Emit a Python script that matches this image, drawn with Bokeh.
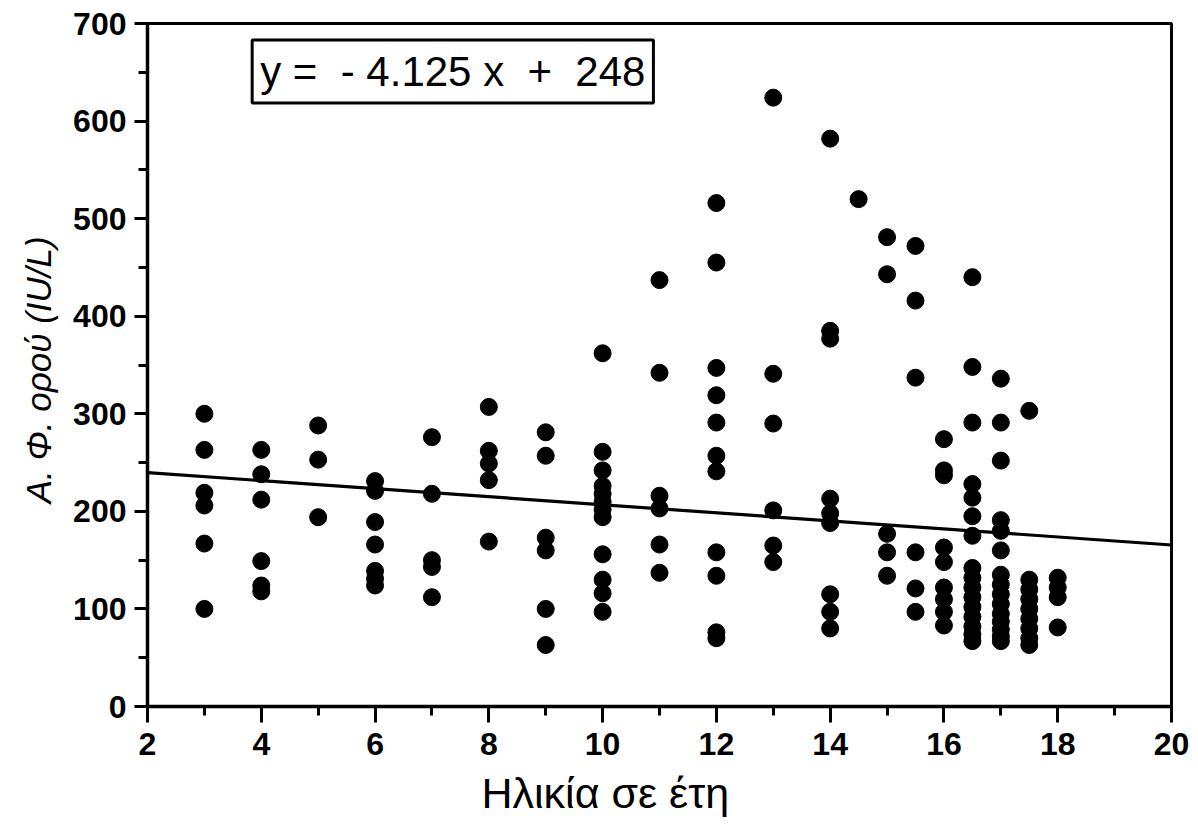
from bokeh.plotting import figure
from bokeh.models import FixedTicker, Label, Title, ColumnDataSource
from bokeh.embed import file_html
from bokeh.resources import INLINE

# ---- data (age in years -> serum ALP, IU/L) ----
age_3 = [300, 263, 219, 206, 167, 100]
age_4 = [263, 238, 212, 149, 124, 118]
age_5 = [288, 253, 194]
age_6 = [231, 221, 189, 166, 139, 131, 124]
age_7 = [276, 218, 150, 143, 112]
age_8 = [307, 262, 249, 232, 169]
age_9 = [281, 257, 173, 160, 100, 63]
age_10 = [362, 261, 242, 226, 218, 210, 202, 194, 156, 130, 116, 97]
age_11 = [437, 342, 216, 203, 166, 137]
age_12 = [516, 455, 347, 319, 291, 257, 241, 158, 134, 76, 70]
age_13 = [624, 341, 290, 201, 165, 148]
age_14 = [582, 385, 377, 213, 198, 188, 115, 97, 80]
age_14_5 = [520]
age_15 = [481, 443, 177, 158, 134]
age_15_5 = [472, 416, 337, 158, 121, 97]
age_16 = [274, 242, 237, 163, 148, 122, 110, 97, 83]
age_16_5 = [440, 348, 291, 228, 214, 195, 175, 142, 132, 122, 112, 102, 92, 82, 74, 67]
age_17 = [336, 291, 252, 191, 180, 160, 135, 125, 115, 105, 95, 87, 79, 72, 67]
age_17_5 = [303, 130, 120, 110, 100, 90, 80, 70, 63]
age_18 = [132, 122, 112, 81]

groups = [(3, age_3), (4, age_4), (5, age_5), (6, age_6), (7, age_7), (8, age_8),
          (9, age_9), (10, age_10), (11, age_11), (12, age_12), (13, age_13),
          (14, age_14), (14.5, age_14_5), (15, age_15), (15.5, age_15_5),
          (16, age_16), (16.5, age_16_5), (17, age_17), (17.5, age_17_5), (18, age_18)]

slope = -4.125
intercept = 248

x_ticks = [2, 4, 6, 8, 10, 12, 14, 16, 18, 20]
x_minor = [3, 5, 7, 9, 11, 13, 15, 17, 19]
y_ticks = [0, 100, 200, 300, 400, 500, 600, 700]
y_minor = [50, 150, 250, 350, 450, 550, 650]

xs, ys = [], []
for a, vals in groups:
    for v in vals:
        xs.append(a)
        ys.append(v)
src = ColumnDataSource(dict(x=xs, y=ys))

FONT = "Liberation Sans"

p = figure(width=1198, height=832, x_range=(2, 20), y_range=(0, 700),
           output_backend="svg", toolbar_location=None,
           min_border_left=147, min_border_right=27, min_border_top=23, min_border_bottom=126)
p.grid.visible = False
p.background_fill_color = "white"
p.border_fill_color = "white"
p.outline_line_color = "black"
p.outline_line_width = 3

# regression line
lx = [x_ticks[0], x_ticks[-1]]
ly = [intercept + slope * v for v in lx]
p.line(lx, ly, line_color="black", line_width=3.2)

p.scatter("x", "y", source=src, size=17, fill_color="black", line_color="black")

for ax in (p.xaxis[0], p.yaxis[0]):
    ax.axis_line_width = 3.5
    ax.axis_line_color = "black"
    ax.major_tick_line_width = 3
    ax.minor_tick_line_width = 3
    ax.major_tick_in = 0
    ax.minor_tick_in = 0
    ax.major_label_text_font = FONT
    ax.major_label_text_font_style = "bold"
    ax.major_label_text_font_size = "32px"
    ax.major_label_text_color = "black"

p.xaxis.ticker = FixedTicker(ticks=x_ticks, minor_ticks=x_minor)
p.xaxis.major_tick_out = 16
p.xaxis.minor_tick_out = 9
p.xaxis.major_label_standoff = 10

p.yaxis.ticker = FixedTicker(ticks=y_ticks, minor_ticks=y_minor)
p.yaxis.major_tick_out = 13
p.yaxis.minor_tick_out = 9
p.yaxis.major_label_standoff = 8
p.yaxis.axis_label = "Α. Φ. ορού  (IU/L)"
p.yaxis.axis_label_text_font = FONT
p.yaxis.axis_label_text_font_style = "italic"
p.yaxis.axis_label_text_font_size = "35px"
p.yaxis.axis_label_text_color = "black"
p.yaxis.axis_label_standoff = 12

xt = Title(text="Ηλικία σε έτη", align="left", offset=334, standoff=18, text_font=FONT,
           text_font_style="normal", text_font_size="43px", text_color="black")
p.add_layout(xt, "below")

eq = "y =\u00a0\u00a0- {} x\u00a0\u00a0+\u00a0\u00a0{}".format(abs(slope), intercept)
lab = Label(x=3.84, y=683, text=eq, anchor="top_left", text_font=FONT,
            text_font_size="42px", text_color="black", padding=8,
            border_line_color="black", border_line_width=3,
            background_fill_color="white")
p.add_layout(lab)

open("out.html", "w").write(file_html(p, INLINE))
